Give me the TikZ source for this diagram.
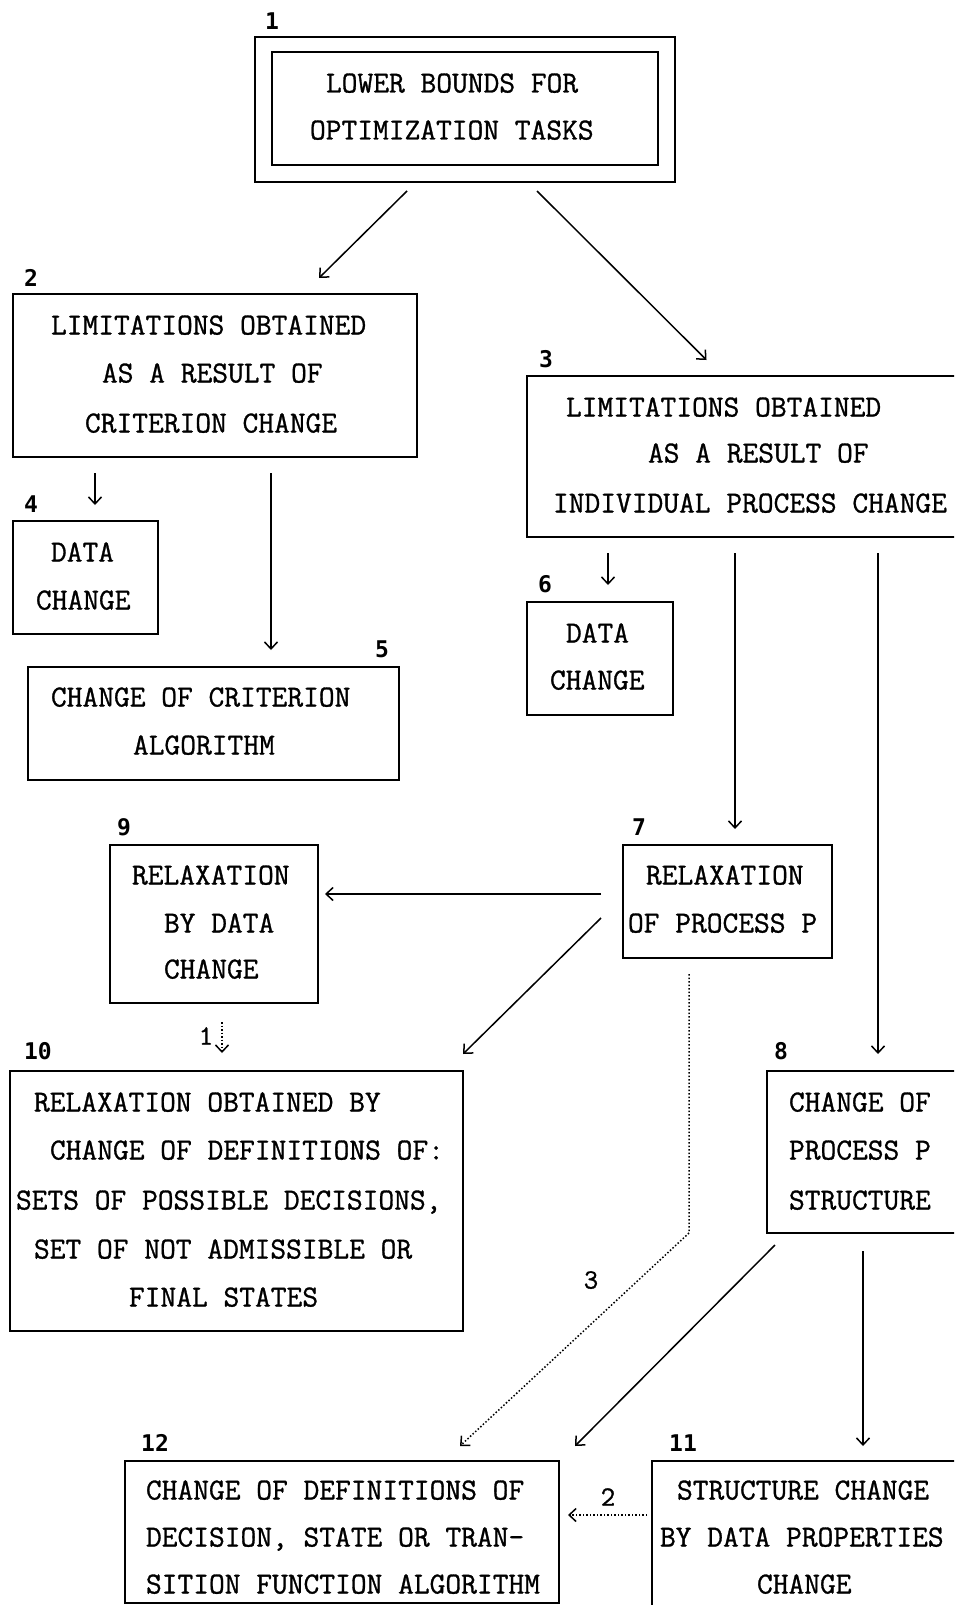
\documentclass[tikz,border=0pt]{standalone}
\usepackage{fontspec}
\usetikzlibrary{arrows.meta}
\newfontfamily\labfont{DejaVu Sans Mono}
\newfontfamily\boxfont{Latin Modern Mono}[FakeBold=1]
\newcommand\txtline[4]{\node[txt] (#1) at (#2-2,#3+9.5) {#4};}
\begin{document}
\begin{tikzpicture}[x=1pt,y=-1pt,
  box/.style={draw,line width=1.8pt,inner sep=0pt,outer sep=0pt,rectangle},
  txt/.style={inner sep=0pt,outer sep=0pt,anchor=base west,font=\fontsize{30.6}{36}\selectfont\boxfont},
  num/.style={inner sep=0pt,anchor=center,font=\fontsize{23}{26}\selectfont\labfont\bfseries},
  lab/.style={inner sep=0pt,anchor=center,font=\fontsize{28}{30}\selectfont\boxfont},
  arr/.style={line width=1.5pt,-{Straight Barb[length=7pt,width=13pt]}},
  dotarr/.style={arr,dotted}]
\useasboundingbox (0,0) rectangle (954,1605);
\clip (0,0) rectangle (954,1605);

% boxes
\node[box,minimum width=420pt,minimum height=145pt] (b1) at (465,109.5) {};
\node[box,minimum width=386pt,minimum height=113pt] (b1i) at (465,108.5) {};
\node[box,minimum width=404pt,minimum height=163pt] (b2) at (215,375.5) {};
\node[box,minimum width=463pt,minimum height=161pt] (b3) at (758.5,456.5) {};
\node[box,minimum width=145pt,minimum height=113pt] (b4) at (85.5,577.5) {};
\node[box,minimum width=371pt,minimum height=113pt] (b5) at (213.5,723.5) {};
\node[box,minimum width=146pt,minimum height=113pt] (b6) at (600,658.5) {};
\node[box,minimum width=209pt,minimum height=113pt] (b7) at (727.5,901.5) {};
\node[box,minimum width=208pt,minimum height=158pt] (b9) at (214,924) {};
\node[box,minimum width=453pt,minimum height=260pt] (b10) at (236.5,1201) {};
\node[box,minimum width=223pt,minimum height=162pt] (b8) at (878.5,1152) {};
\node[box,minimum width=434pt,minimum height=142pt] (b12) at (342,1532) {};
\node[box,minimum width=338pt,minimum height=179pt] (b11) at (821,1550.5) {};

% texts
\txtline{t1a}{328}{83}{LOWER BOUNDS FOR}
\txtline{t1b}{312}{130}{OPTIMIZATION TASKS}
\txtline{t2a}{53}{325}{LIMITATIONS OBTAINED}
\txtline{t2b}{104}{373}{AS A RESULT OF}
\txtline{t2c}{87}{423}{CRITERION CHANGE}
\txtline{t4a}{53}{552}{DATA}
\txtline{t4b}{38}{600}{CHANGE}
\txtline{t5a}{53}{697}{CHANGE OF CRITERION}
\txtline{t5b}{135}{745}{ALGORITHM}
\txtline{t3a}{568}{407}{LIMITATIONS OBTAINED}
\txtline{t3b}{650}{453}{AS A RESULT OF}
\txtline{t3c}{555}{503}{INDIVIDUAL PROCESS CHANGE}
\txtline{t6a}{568}{633}{DATA}
\txtline{t6b}{552}{680}{CHANGE}
\txtline{t7a}{648}{875}{RELAXATION}
\txtline{t7b}{630}{923}{OF PROCESS P}
\txtline{t9a}{134}{875}{RELAXATION}
\txtline{t9b}{166}{923}{BY DATA}
\txtline{t9c}{166}{969}{CHANGE}
\txtline{t10a}{36}{1102}{RELAXATION OBTAINED BY}
\txtline{t10b}{52}{1150}{CHANGE OF DEFINITIONS OF:}
\txtline{t10c}{18}{1200}{SETS OF POSSIBLE DECISIONS,}
\txtline{t10d}{36}{1249}{SET OF NOT ADMISSIBLE OR}
\txtline{t10e}{131}{1297}{FINAL STATES}
\txtline{t8a}{791}{1102}{CHANGE OF}
\txtline{t8b}{791}{1150}{PROCESS P}
\txtline{t8c}{791}{1200}{STRUCTURE}
\txtline{t12a}{148}{1490}{CHANGE OF DEFINITIONS OF}
\txtline{t12b}{148}{1537}{DECISION, STATE OR TRAN-}
\txtline{t12c}{148}{1584}{SITION FUNCTION ALGORITHM}
\txtline{t11a}{679}{1490}{STRUCTURE CHANGE}
\txtline{t11b}{662}{1537}{BY DATA PROPERTIES}
\txtline{t11c}{759}{1584}{CHANGE}

% number labels
\node[num] (n1) at (272,21) {1};
\node[num] (n2) at (31,278) {2};
\node[num] (n3) at (546,359) {3};
\node[num] (n4) at (31,504) {4};
\node[num] (n5) at (382,649) {5};
\node[num] (n6) at (545,584) {6};
\node[num] (n7) at (639,827) {7};
\node[num] (n9) at (124,827) {9};
\node[num] (n10) at (38,1051) {10};
\node[num] (n8) at (781,1051) {8};
\node[num] (n12) at (155,1443) {12};
\node[num] (n11) at (683,1443) {11};

% connector labels
\node[lab] (l1) at (206,1036) {1};
\node[lab] (l3) at (591,1280) {3};
\node[lab] (l2) at (608,1497) {2};

% connectors
\draw[arr] ([xshift=-58pt,yshift=-9pt]b1.south) -- ([xshift=104pt,yshift=16pt]b2.north);
\draw[arr] ([xshift=72pt,yshift=-9pt]b1.south) -- ([xshift=-52pt,yshift=16pt]b3.north);
\draw[arr] ([xshift=-120pt,yshift=-16pt]b2.south) -- ([xshift=9.5pt,yshift=16pt]b4.north);
\draw[arr] ([xshift=56pt,yshift=-16pt]b2.south) -- ([xshift=57.5pt,yshift=17pt]b5.north);
\draw[arr] ([xshift=-150.5pt,yshift=-16pt]b3.south) -- ([xshift=8pt,yshift=17pt]b6.north);
\draw[arr] ([xshift=-23.5pt,yshift=-16pt]b3.south) -- ([xshift=7.5pt,yshift=16pt]b7.north);
\draw[arr] ([xshift=119.5pt,yshift=-16pt]b3.south) -- ([xshift=-0.5pt,yshift=17pt]b8.north);
\draw[arr] ([xshift=-22pt,yshift=7.5pt]b7.west) -- ([xshift=7pt,yshift=30pt]b9.east);
\draw[arr] ([xshift=-22pt,yshift=-16.5pt]b7.west) -- ([yshift=17pt]b10.north east);
\draw[dotarr] ([xshift=8pt,yshift=-19pt]b9.south) -- ([xshift=-14.5pt,yshift=18pt]b10.north);
\coordinate (c7) at (689,1233);
\draw[dotarr] ([xshift=-38.5pt,yshift=-16pt]b7.south) -- (c7) -- ([xshift=118pt,yshift=15pt]b12.north);
\draw[arr] ([xshift=8pt,yshift=-12pt]b8.south west) -- ([xshift=16pt,yshift=15pt]b12.north east);
\draw[arr] ([xshift=-15.5pt,yshift=-18pt]b8.south) -- ([xshift=42pt,yshift=15pt]b11.north);
\draw[dotarr] ([xshift=-5pt,yshift=35.5pt]b11.west) -- ([xshift=9pt,yshift=17pt]b12.east);
\end{tikzpicture}
\end{document}
